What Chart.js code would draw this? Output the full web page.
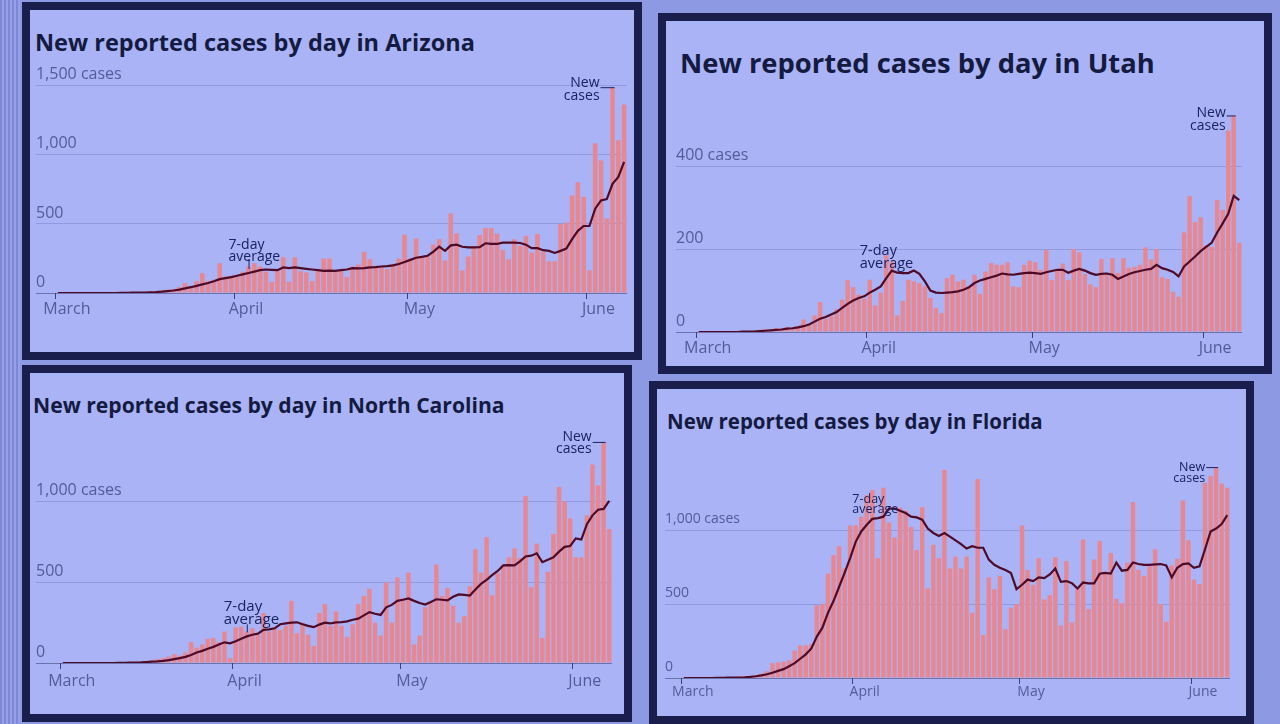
<!DOCTYPE html>
<html>
<head>
<meta charset="utf-8">
<script src="https://cdn.jsdelivr.net/npm/chart.js@4.4.1/dist/chart.umd.min.js"></script>
<style>
  html, body { margin: 0; padding: 0; }
  body { width: 1280px; height: 724px; overflow: hidden; position: relative; background: #8e99e3; font-family: 'Open Sans', sans-serif; }
  .strip { position: absolute; left: 0; top: 0; width: 20px; height: 724px;
           background: repeating-linear-gradient(90deg, #7c88d6 0 2px, #95a0e6 2px 4px); }
  .panel { position: absolute; box-sizing: border-box; border: 8px solid #191e4c; background: #a9b3f6; }
  .title { position: absolute; white-space: nowrap; font-weight: 700; color: #141a40; line-height: 1; }
  canvas { position: absolute; }
</style>
</head>
<body>
<div class="strip"></div>
<script>
// days from March 1 to June 7
const dayCount = 99;
const dayLabels = [];
for (let i = 0; i < dayCount; i++) {
  const d = new Date(2020, 2, 1 + i);
  dayLabels.push((d.getMonth() + 1) + '/' + d.getDate());
}
const monthStarts = [0, 31, 61, 92];
const monthNames = ['March', 'April', 'May', 'June'];

// Arizona
const azCases = [0,0,0,0,0,0,0,0,1,0,1,3,2,4,5,8,
  10,14,19,24,29,43,72,48,86,144,86,96,216,120,125,
  120,154,192,216,192,154,82,158,259,82,259,158,149,86,163,250,250,163,163,115,192,206,298,245,197,197,173,211,250,422,
  250,394,264,264,350,389,235,576,432,163,264,340,420,470,470,430,312,245,389,341,413,293,427,298,230,230,499,509,706,802,696,
  165,1085,960,540,1490,1105,1365];
const azAvg = [0,0,0,0,0,0,0,0,0,0,0,1,1,2,2,3,
  5,7,10,14,18,25,33,42,52,62,72,85,100,108,115,
  125,135,145,155,165,170,168,165,185,180,185,180,175,170,165,160,162,160,165,170,180,178,180,185,188,192,195,200,210,225,
  240,255,262,270,300,335,305,345,350,335,330,330,332,360,355,355,365,365,365,362,350,325,325,310,305,290,305,322,390,450,485,
  485,610,670,680,790,840,950];
const azTicks = [0, 500, 1000, 1500];

// Utah
const utCases = [0,0,0,0,0,0,1,0,2,1,3,4,7,5,
  10,8,12,10,15,30,20,40,72,32,38,55,78,125,108,90,80,
  126,64,95,185,170,40,75,126,122,118,110,82,58,46,130,138,122,126,110,138,92,146,166,162,162,168,110,108,162,172,
  168,150,198,125,152,165,125,200,192,140,115,108,176,142,178,142,178,155,157,162,204,175,200,132,128,97,85,240,328,265,277,
  209,205,318,294,486,522,215];
const utAvg = [0,0,0,0,0,0,0,0,1,1,1,2,3,4,
  5,6,8,9,11,14,18,25,32,36,42,48,58,68,76,82,86,
  95,102,110,130,148,143,142,142,148,140,122,100,95,94,95,96,98,102,108,118,124,128,132,136,141,139,138,140,142,143,
  142,140,144,147,150,150,143,148,152,148,142,138,140,141,138,128,134,140,144,147,150,152,162,154,150,145,134,158,170,182,195,
  205,215,240,262,285,328,318];
const utTicks = [0, 200, 400];

// North Carolina
const ncCases = [0,0,1,0,0,1,0,0,0,1,3,5,2,6,8,
  10,15,25,30,40,55,45,65,130,95,115,150,155,130,195,30,
  220,225,195,215,175,310,195,215,205,230,385,185,250,175,105,310,365,230,320,230,160,240,365,415,460,250,170,500,250,530,
  400,560,115,170,345,375,610,415,465,355,250,290,475,705,560,780,420,555,605,655,710,650,1035,470,740,155,565,800,1090,1000,895,
  655,655,915,1230,1100,1370,830];
const ncAvg = [0,0,0,0,0,0,0,0,0,0,1,1,2,3,4,
  6,8,10,13,18,24,30,38,50,65,75,88,100,115,128,122,
  135,150,165,175,182,205,208,215,240,246,250,252,240,230,222,238,250,245,252,253,258,268,275,295,315,305,298,345,360,385,
  392,400,385,372,362,378,395,392,388,410,425,422,418,455,490,515,545,570,605,606,605,630,660,665,680,625,640,655,690,720,725,
  772,765,860,915,950,955,1005];
const ncTicks = [0, 500, 1000];

// Florida
const flCases = [0,0,1,0,0,2,1,3,5,4,10,12,
  15,20,30,45,100,105,110,120,185,220,220,230,490,500,705,830,890,740,1030,
  1030,1090,1235,1270,810,1285,1050,950,1150,1130,1020,865,1155,605,900,810,1405,740,820,740,820,440,1345,290,680,600,690,330,475,500,
  1030,730,630,810,530,560,815,355,790,375,615,935,465,800,925,710,845,535,505,780,1190,730,690,755,870,500,380,760,805,1200,930,
  665,635,1320,1365,1425,1315,1285];
const flAvg = [0,0,0,0,0,0,1,1,2,2,3,5,
  8,12,18,25,35,48,60,80,100,130,160,200,280,340,440,520,615,710,810,
  920,990,1035,1075,1080,1090,1145,1145,1130,1115,1090,1085,1070,1010,980,960,980,955,930,905,875,890,880,880,800,765,745,730,710,600,
  630,665,655,680,675,700,740,650,655,640,605,645,640,640,705,710,705,780,725,730,780,770,765,765,768,770,760,680,745,770,775,
  745,755,870,990,1010,1040,1100];
const flTicks = [0, 500, 1000];

const panels = [
  { name: 'Arizona', cases: azCases, avg: azAvg, yTicks: azTicks, yMax: 1600,
    frame: [22, 2, 642, 360], title: { x: 35, y: 44, w: 440 },
    canvas: [30, 60, 634, 345], area: [55, 72, 627, 293], yAxisW: 19, font: 16, xPad: 1,
    avgNote: { i: 33, dx: -20, dy: -16, lead: 10, size: 14 }, newNote: { dx: -13, dy: -4, size: 14 } },
  { name: 'Utah', cases: utCases, avg: utAvg, yTicks: utTicks, yMax: 540,
    frame: [658, 13, 1272, 374], title: { x: 680, y: 64, w: 475 },
    canvas: [667, 95, 1263, 366], area: [696, 108, 1242, 332], yAxisW: 20, font: 16, xPad: 1,
    avgNote: { i: 35, dx: -32, dy: -7, lead: 0, size: 14.5 }, newNote: { dx: -8, dy: -2, size: 14 } },
  { name: 'North Carolina', cases: ncCases, avg: ncAvg, yTicks: ncTicks, yMax: 1450,
    frame: [22, 365, 632, 722], title: { x: 33, y: 406, w: 472 },
    canvas: [30, 415, 624, 712], area: [60, 429, 612, 663], yAxisW: 24, font: 16, xPad: 3,
    avgNote: { i: 33, dx: -23, dy: -17, lead: 8, size: 15 }, newNote: { dx: -12, dy: -5, size: 14 } },
  { name: 'Florida', cases: flCases, avg: flAvg, yTicks: flTicks, yMax: 1500,
    frame: [649, 381, 1254, 724], title: { x: 667, y: 422, w: 376 },
    canvas: [658, 440, 1245, 715], area: [681, 456, 1230, 678], yAxisW: 16, font: 14, xPad: 0,
    avgNote: { i: 34, dx: -20, dy: -9, lead: 0, size: 12.5 }, newNote: { dx: -11, dy: 0, size: 12.5 } }
];

const INK = '#1b2260';
const AXIS_TEXT = '#545c98';
const FONT = "'Open Sans', sans-serif";

// text notes: "7-day average" and "New cases"
const notesPlugin = {
  id: 'notes',
  afterDatasetsDraw(chart, args, opts) {
    const p = opts.panel;
    const { ctx } = chart;
    const x = chart.scales.x, y = chart.scales.y;
    ctx.save();
    ctx.fillStyle = INK;
    ctx.strokeStyle = INK;
    ctx.lineWidth = 1;
    ctx.textBaseline = 'middle';

    const a = p.avgNote;
    const ax = x.getPixelForValue(a.i), ay = y.getPixelForValue(p.avg[a.i]);
    ctx.font = a.size + 'px ' + FONT;
    ctx.textAlign = 'left';
    ctx.fillText('7-day', ax + a.dx, ay + a.dy - a.size * 0.85);
    ctx.fillText('average', ax + a.dx, ay + a.dy);
    if (a.lead) {
      ctx.beginPath();
      ctx.moveTo(ax + 0.5, ay - 4);
      ctx.lineTo(ax + 0.5, ay - 4 - a.lead);
      ctx.stroke();
    }

    const n = p.newNote;
    const peak = p.cases.indexOf(Math.max(...p.cases));
    const bx = x.getPixelForValue(peak), by = y.getPixelForValue(p.cases[peak]);
    ctx.font = n.size + 'px ' + FONT;
    ctx.textAlign = 'right';
    ctx.fillText('New', bx + n.dx, by + n.dy);
    ctx.fillText('cases', bx + n.dx, by + n.dy + n.size * 0.9);
    ctx.beginPath();
    ctx.moveTo(bx + n.dx + 1, by + 0.5);
    ctx.lineTo(bx + 2, by + 0.5);
    ctx.stroke();
    ctx.restore();
  }
};

const measure = document.createElement('canvas').getContext('2d');

function drawPanel(p) {
  const [fl, ft, fr, fb] = p.frame;
  const box = document.createElement('div');
  box.className = 'panel';
  Object.assign(box.style, { left: fl + 'px', top: ft + 'px', width: (fr - fl) + 'px', height: (fb - ft) + 'px' });
  document.body.appendChild(box);

  const text = 'New reported cases by day in ' + p.name;
  measure.font = "700 20px 'Open Sans'";
  const size = 20 * p.title.w / measure.measureText(text).width;
  const t = document.createElement('div');
  t.className = 'title';
  t.textContent = text;
  Object.assign(t.style, { fontSize: size + 'px', left: p.title.x + 'px', top: (p.title.y - size * 0.55) + 'px' });
  document.body.appendChild(t);

  const [cl, ct, cr, cb] = p.canvas;
  const [al, at, ar, ab] = p.area;
  const xAxisH = 30;
  const cv = document.createElement('canvas');
  cv.width = cr - cl; cv.height = cb - ct;
  Object.assign(cv.style, { left: cl + 'px', top: ct + 'px', width: (cr - cl) + 'px', height: (cb - ct) + 'px' });
  document.body.appendChild(cv);

  const topTick = p.yTicks[p.yTicks.length - 1];
  new Chart(cv, {
    data: {
      labels: dayLabels,
      datasets: [
        { type: 'line', data: p.avg, borderColor: '#4e0a26', borderWidth: 2.2, pointRadius: 0, tension: 0, order: 0 },
        { type: 'bar', data: p.cases, backgroundColor: '#e68893', barPercentage: 0.8, categoryPercentage: 1, order: 1 }
      ]
    },
    options: {
      responsive: false,
      animation: false,
      layout: { padding: { left: al - cl - p.yAxisW, right: cr - ar, top: at - ct, bottom: cb - ab - xAxisH } },
      plugins: { legend: { display: false }, tooltip: { enabled: false }, notes: { panel: p } },
      scales: {
        x: {
          grid: { offset: true, drawOnChartArea: false, tickLength: 6,
                  color: c => monthStarts.includes(c.index) ? '#3b4173' : 'rgba(0,0,0,0)' },
          border: { display: false },
          ticks: { autoSkip: false, maxRotation: 0, minRotation: 0, padding: p.xPad, labelOffset: 9,
                   color: AXIS_TEXT, font: { family: FONT, size: p.font },
                   callback: (v, i) => { const k = monthStarts.indexOf(i); return k < 0 ? '' : monthNames[k]; } },
          afterFit: s => { s.height = xAxisH; }
        },
        y: {
          min: 0, max: p.yMax,
          afterBuildTicks: s => { s.ticks = p.yTicks.map(v => ({ value: v })); },
          afterFit: s => { s.width = p.yAxisW; },
          grid: { tickLength: p.yAxisW,
                  color: c => (c.tick && c.tick.value === 0) ? 'rgba(55,60,115,0.55)' : 'rgba(115,125,200,0.45)' },
          border: { display: false },
          // mirrored labels pulled back to the axis' left edge, sitting above their grid line
          ticks: { mirror: true, padding: -p.yAxisW, labelOffset: -11, color: AXIS_TEXT,
                   font: { family: FONT, size: p.font },
                   callback: v => v === topTick ? v.toLocaleString('en-US') + ' cases' : v.toLocaleString('en-US') }
        }
      }
    },
    plugins: [notesPlugin]
  });
}

panels.forEach(drawPanel);
</script>
</body>
</html>
